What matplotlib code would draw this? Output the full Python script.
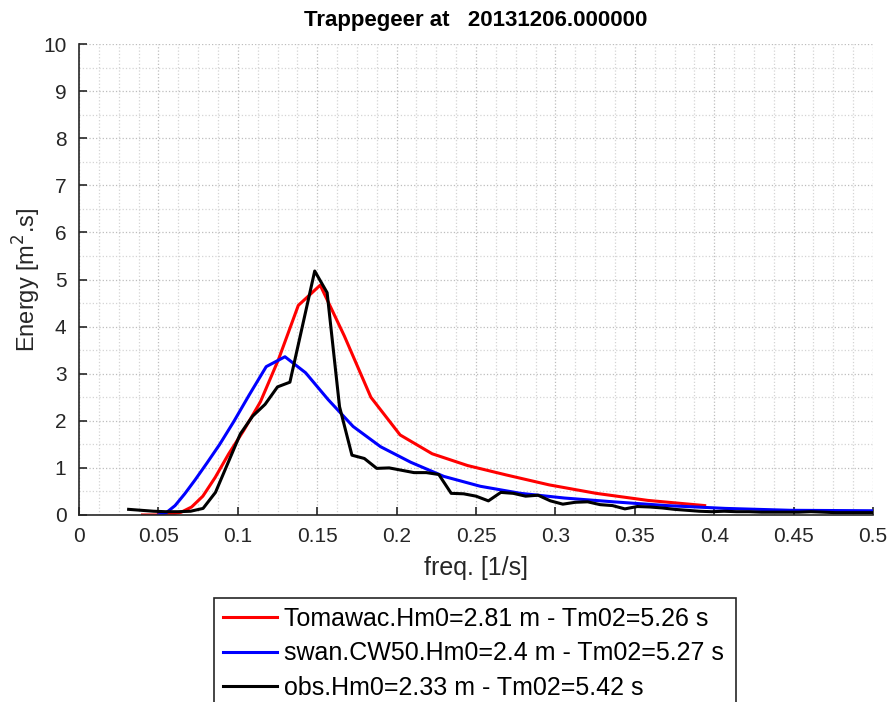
import matplotlib
matplotlib.use("Agg")
import matplotlib.pyplot as plt
import numpy as np
from matplotlib.ticker import MultipleLocator
from matplotlib.patches import Rectangle

plt.rcParams['font.family'] = ['Liberation Sans', 'DejaVu Sans']

# Tomawac spectrum
tom_f = [0.04, 0.044, 0.0484, 0.0532, 0.0586, 0.0644, 0.0709, 0.078, 0.0858, 0.0943,
         0.1038, 0.1142, 0.1256, 0.1381, 0.1519, 0.1671, 0.1838, 0.2022, 0.2224, 0.2447,
         0.2691, 0.296, 0.3256, 0.3582, 0.394]
tom_e = [0.0, 0.0, 0.0, 0.01, 0.02, 0.06, 0.17, 0.4, 0.8, 1.3,
         1.8, 2.4, 3.3, 4.45, 4.88, 3.8, 2.5, 1.7, 1.3, 1.05,
         0.85, 0.64, 0.46, 0.31, 0.2]

# SWAN spectrum
swan_f = [0.05, 0.055, 0.0605, 0.0666, 0.0732, 0.0805, 0.0886, 0.0974, 0.1072, 0.1179,
          0.1297, 0.1427, 0.1569, 0.1726, 0.1899, 0.2089, 0.2297, 0.2527, 0.278, 0.3058,
          0.3364, 0.37, 0.407, 0.4477, 0.5]
swan_e = [0.0, 0.05, 0.2, 0.45, 0.75, 1.1, 1.5, 1.98, 2.55, 3.15,
          3.36, 3.02, 2.45, 1.88, 1.45, 1.12, 0.82, 0.61, 0.46, 0.36,
          0.28, 0.2, 0.14, 0.1, 0.09]

# Observed spectrum (df = 1/128)
obs_f = [k / 128 for k in range(4, 65)]
obs_e = [0.12, 0.1, 0.08, 0.07, 0.07, 0.08, 0.14, 0.48, 1.1, 1.72,
         2.1, 2.35, 2.72, 2.82, 4.0, 5.18, 4.72, 2.3, 1.27, 1.2,
         0.99, 1.0, 0.95, 0.9, 0.9, 0.86, 0.46, 0.45, 0.4, 0.3,
         0.48, 0.46, 0.4, 0.42, 0.3, 0.23, 0.27, 0.28, 0.22, 0.2,
         0.13, 0.18, 0.17, 0.15, 0.12, 0.1, 0.08, 0.07, 0.08, 0.07,
         0.07, 0.06, 0.06, 0.06, 0.06, 0.07, 0.06, 0.05, 0.05, 0.05,
         0.05]

labels = ['Tomawac.Hm0=2.81 m - Tm02=5.26 s',
          'swan.CW50.Hm0=2.4 m - Tm02=5.27 s',
          'obs.Hm0=2.33 m - Tm02=5.42 s']
xtick_labels = ['0', '0.05', '0.1', '0.15', '0.2', '0.25', '0.3', '0.35', '0.4', '0.45', '0.5']
title = 'Trappegeer at   20131206.000000'

txt = '#262626'
W, H = 890, 702
fig = plt.figure(figsize=(W/100, H/100), dpi=100)
ax = fig.add_axes([79/W, 1-515/H, (873-79)/W, (515-44)/H])

l1, = ax.plot(tom_f, tom_e, color='red', lw=2.2, label=labels[0])
l2, = ax.plot(swan_f, swan_e, color='blue', lw=2.2, label=labels[1])
l3, = ax.plot(obs_f, obs_e, color='black', lw=2.2, label=labels[2])

ax.set_xlim(0, 0.5)
ax.set_ylim(0, 10)
ax.set_xticks(np.arange(0, 0.501, 0.05))
ax.set_xticklabels(xtick_labels)
ax.xaxis.set_minor_locator(MultipleLocator(0.0125))
ax.yaxis.set_major_locator(MultipleLocator(1))
ax.yaxis.set_minor_locator(MultipleLocator(0.5))
ax.grid(True, which='major', linestyle=':', color='#bdbdbd', lw=0.9)
ax.grid(True, which='minor', linestyle=':', color='#d4d4d4', lw=0.9)
ax.set_axisbelow(True)
for s in ['top', 'right']:
    ax.spines[s].set_visible(False)
for s in ['left', 'bottom']:
    ax.spines[s].set_color(txt)
    ax.spines[s].set_linewidth(1.2)
ax.tick_params(which='major', direction='in', length=6, width=1.2, color=txt,
               labelcolor=txt, labelsize=15, pad=9)
ax.tick_params(which='minor', length=0)

ax.set_xlabel('freq. [1/s]', fontsize=18, color=txt, labelpad=7)
ax.set_ylabel('Energy [m$^2$.s]', fontsize=17, color=txt, labelpad=0)
ax.set_title(title, fontsize=16, fontweight='bold', color='black', pad=13)

# legend frame (MATLAB style box, wider on the right)
fig.patches.append(Rectangle((214/W, -0.02), (736-214)/W, (1-598/H) + 0.02,
                             transform=fig.transFigure, facecolor='white',
                             edgecolor=txt, lw=1.2, zorder=1))
leg = fig.legend(handles=[l1, l2, l3], loc='upper left',
                 bbox_to_anchor=(214/W, 1-598/H), borderaxespad=0,
                 fontsize=18, frameon=False,
                 handlelength=2.16, handletextpad=0.28, labelspacing=0.42,
                 borderpad=0.35)
leg.set_zorder(2)
for t in leg.get_texts():
    t.set_color('black')

fig.savefig('out.png', dpi=100)
